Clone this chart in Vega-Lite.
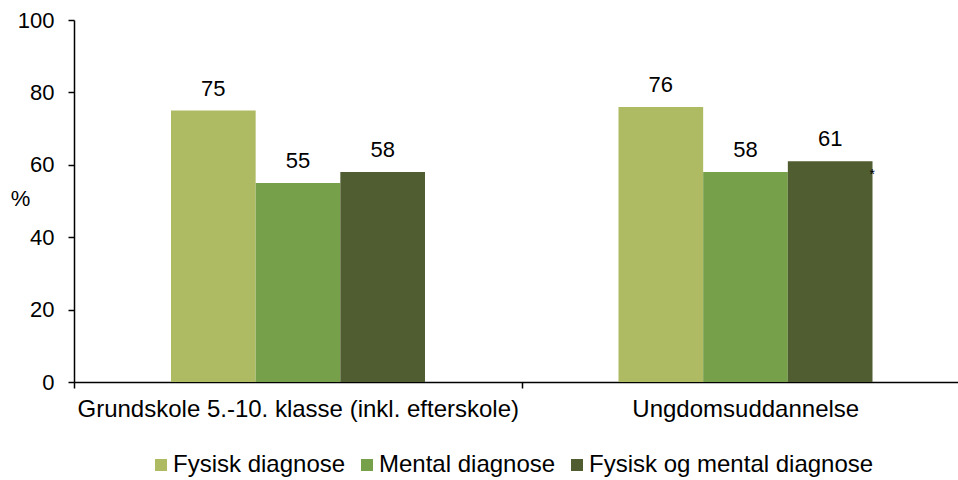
{
  "$schema": "https://vega.github.io/schema/vega-lite/v6.json",
  "width": 884,
  "height": 362,
  "autosize": {"type": "none"},
  "padding": {"left": 74, "top": 20, "right": 0, "bottom": 98},
  "background": "white",
  "config": {
    "view": {"stroke": null},
    "font": "Liberation Sans",
    "text": {"font": "Liberation Sans"}
  },
  "datasets": {
    "main": [
      {"kategori": "Grundskole 5.-10. klasse (inkl. efterskole)", "serie": "Fysisk diagnose", "value": 75},
      {"kategori": "Grundskole 5.-10. klasse (inkl. efterskole)", "serie": "Mental diagnose", "value": 55},
      {"kategori": "Grundskole 5.-10. klasse (inkl. efterskole)", "serie": "Fysisk og mental diagnose", "value": 58},
      {"kategori": "Ungdomsuddannelse", "serie": "Fysisk diagnose", "value": 76},
      {"kategori": "Ungdomsuddannelse", "serie": "Mental diagnose", "value": 58},
      {"kategori": "Ungdomsuddannelse", "serie": "Fysisk og mental diagnose", "value": 61}
    ],
    "note": [
      {"kategori": "Ungdomsuddannelse", "serie": "Fysisk og mental diagnose", "value": 58, "mark": "*"}
    ]
  },
  "encoding": {
    "x": {
      "field": "kategori",
      "type": "nominal",
      "sort": null,
      "scale": {"paddingInner": 0, "paddingOuter": 0, "range": [0, 895]},
      "axis": {
        "title": null,
        "labelAngle": 0,
        "labelFontSize": 24,
        "labelLimit": 0,
        "labelColor": "black",
        "labelPadding": 9,
        "tickBand": "extent",
        "tickSize": 6,
        "tickColor": "black",
        "tickWidth": 1.5,
        "domainColor": "black",
        "domainWidth": 1.5,
        "grid": false
      }
    },
    "xOffset": {
      "field": "serie",
      "type": "nominal",
      "sort": ["Fysisk diagnose", "Mental diagnose", "Fysisk og mental diagnose"],
      "scale": {"paddingInner": 0, "paddingOuter": 0, "range": [97, 351]}
    },
    "y": {
      "field": "value",
      "type": "quantitative",
      "scale": {"domain": [0, 100], "nice": false},
      "axis": {
        "title": "%",
        "titleAngle": 0,
        "titleFontSize": 22,
        "titleFontWeight": "normal",
        "titleColor": "black",
        "titleX": -54,
        "titleY": 178,
        "titleAlign": "center",
        "titleBaseline": "middle",
        "values": [0, 20, 40, 60, 80, 100],
        "labelFontSize": 22,
        "labelColor": "black",
        "labelPadding": 14,
        "tickSize": 6,
        "tickColor": "black",
        "tickWidth": 1.5,
        "domainColor": "black",
        "domainWidth": 1.5,
        "grid": false
      }
    }
  },
  "layer": [
    {
      "data": {"name": "main"},
      "mark": {"type": "bar"},
      "encoding": {
        "color": {
          "field": "serie",
          "type": "nominal",
          "sort": ["Fysisk diagnose", "Mental diagnose", "Fysisk og mental diagnose"],
          "scale": {
            "domain": ["Fysisk diagnose", "Mental diagnose", "Fysisk og mental diagnose"],
            "range": ["#AFBB63", "#77A04A", "#4F5D31"]
          },
          "legend": {
            "title": null,
            "orient": "none",
            "direction": "horizontal",
            "legendX": 75,
            "legendY": 433,
            "symbolType": "square",
            "symbolSize": 144,
            "symbolStrokeWidth": 0,
            "symbolOpacity": 1,
            "labelFontSize": 24,
            "labelLimit": 0,
            "labelColor": "black",
            "labelOffset": 0,
            "columnPadding": 9
          }
        }
      }
    },
    {
      "data": {"name": "main"},
      "mark": {"type": "text", "baseline": "bottom", "dy": -10, "fontSize": 22, "color": "black"},
      "encoding": {"text": {"field": "value", "type": "quantitative"}}
    },
    {
      "data": {"name": "note"},
      "mark": {"type": "text", "baseline": "middle", "align": "center", "dx": 42, "dy": 3, "fontSize": 14, "color": "black"},
      "encoding": {"text": {"field": "mark", "type": "nominal"}}
    }
  ]
}
